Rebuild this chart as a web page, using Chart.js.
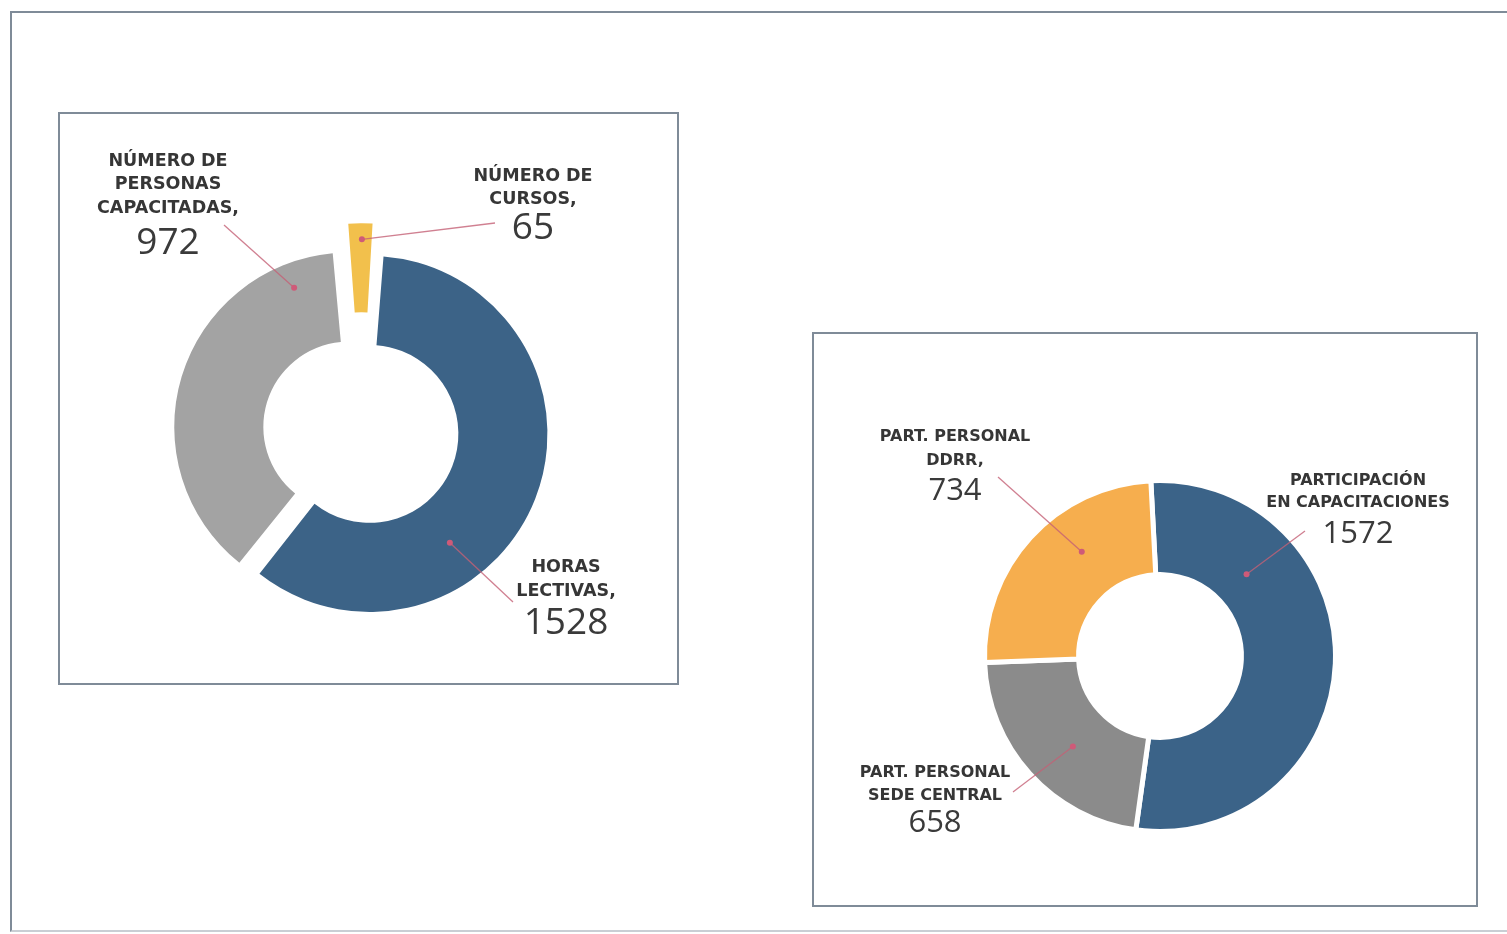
<!DOCTYPE html>
<html lang="es">
<head>
<meta charset="utf-8">
<title>Capacitación</title>
<script src="https://cdn.jsdelivr.net/npm/chart.js@4.4.1/dist/chart.umd.min.js"></script>
<style>
  html, body { margin: 0; padding: 0; background: #fff; }
  body { width: 1507px; height: 934px; position: relative; overflow: hidden; }
  .frame { position: absolute; box-sizing: border-box; border: 2px solid #7f8b98; }
  #page { left: 10px; top: 11px; width: 1510px; height: 921px; border-right: none; border-bottom-color: #c9ced4; }
  #boxA { left: 58px; top: 112px; width: 621px; height: 573px; }
  #boxB { left: 812px; top: 332px; width: 666px; height: 575px; }
  canvas { position: absolute; left: 0; top: 0; pointer-events: none; }
</style>
</head>
<body>
<div class="frame" id="page"></div>
<div class="frame" id="boxA"></div>
<div class="frame" id="boxB"></div>
<canvas id="cursosChart" width="1507" height="934"></canvas>
<canvas id="participacionChart" width="1507" height="934"></canvas>
<script>
// cursos / horas lectivas / personas capacitadas
const cursosNames = [['NÚMERO DE', 'CURSOS,'], ['HORAS', 'LECTIVAS,'], ['NÚMERO DE', 'PERSONAS', 'CAPACITADAS,']];
const cursosValues = [65, 1528, 972];
const cursosColors = ['#f2c04c', '#3c6387', '#a3a3a3'];

// participación del personal en capacitaciones
const partNames = [['PARTICIPACIÓN', 'EN CAPACITACIONES'], ['PART. PERSONAL', 'SEDE CENTRAL'], ['PART. PERSONAL', 'DDRR,']];
const partValues = [1572, 658, 734];
const partColors = ['#3b6388', '#8b8b8b', '#f6ae4e'];

// where each callout sits: text centre x, first line y, line step, number y,
// leader start, and where on the slice the dot goes (t along the arc, f across the ring)
const cursosCallouts = [
  { x: 533, y: 176, step: 23, numY: 228, lx: 495, ly: 223, t: 0.55, f: 0.82 },
  { x: 566, y: 567, step: 24.5, numY: 623.5, lx: 513, ly: 602, t: 0.65, f: 0.52 },
  { x: 168, y: 161, step: 23.5, numY: 243.5, lx: 224, ly: 225, t: 0.88, f: 0.72 }
];
const partCallouts = [
  { x: 1358, y: 481, step: 22, numY: 534, lx: 1305, ly: 531, t: 0.26, f: 0.4 },
  { x: 935, y: 773, step: 23, numY: 823, lx: 1013, ly: 792, t: 0.45, f: 0.47 },
  { x: 955, y: 437, step: 24, numY: 491, lx: 998, ly: 477, t: 0.62, f: 0.52 }
];

function makeCallouts(items, labelFont, numberFont) {
  return {
    id: 'callouts',
    afterDatasetsDraw(chart) {
      const ctx = chart.ctx;
      const meta = chart.getDatasetMeta(0);
      const values = chart.data.datasets[0].data;
      const names = chart.data.labels;
      meta.data.forEach((arc, i) => {
        const c = items[i];
        const p = arc.getProps(['x', 'y', 'startAngle', 'endAngle', 'innerRadius', 'outerRadius', 'circumference'], true);
        // same shift the arc element applies for its offset
        const off = (arc.options.offset || 0) / 4;
        const half = (p.startAngle + p.endAngle) / 2;
        const fix = 1 - Math.sin(Math.min(Math.PI, p.circumference));
        const a = p.startAngle + c.t * (p.endAngle - p.startAngle);
        const r = p.innerRadius + c.f * (p.outerRadius - p.innerRadius) + off * fix;
        const dx = p.x + Math.cos(half) * off + Math.cos(a) * r;
        const dy = p.y + Math.sin(half) * off + Math.sin(a) * r;

        ctx.save();
        ctx.strokeStyle = 'rgba(196, 96, 118, 0.8)';
        ctx.lineWidth = 1.3;
        ctx.beginPath();
        ctx.moveTo(c.lx, c.ly);
        ctx.lineTo(dx, dy);
        ctx.stroke();
        ctx.fillStyle = '#cf5a78';
        ctx.beginPath();
        ctx.arc(dx, dy, 3, 0, Math.PI * 2);
        ctx.fill();

        ctx.fillStyle = '#363636';
        ctx.textAlign = 'center';
        ctx.textBaseline = 'middle';
        ctx.font = labelFont;
        names[i].forEach((line, k) => ctx.fillText(line, c.x, c.y + k * c.step));
        ctx.fillStyle = '#3a3a3a';
        ctx.font = numberFont;
        ctx.fillText(String(values[i]), c.x, c.numY);
        ctx.restore();
      });
    }
  };
}

new Chart(document.getElementById('cursosChart'), {
  type: 'doughnut',
  data: {
    labels: cursosNames,
    datasets: [{
      data: cursosValues,
      backgroundColor: cursosColors,
      borderWidth: 0,
      offset: [82, 32, 56],
      clip: false
    }]
  },
  options: {
    responsive: false,
    animation: false,
    events: [],
    rotation: -5,
    radius: 170,
    cutout: '47.6%',
    layout: { padding: { left: 0, right: 783, top: 0, bottom: 72 } },
    plugins: { legend: { display: false }, tooltip: { enabled: false } }
  },
  plugins: [makeCallouts(cursosCallouts, '700 17.5px "DejaVu Sans"', '400 37px "Open Sans"')]
});

new Chart(document.getElementById('participacionChart'), {
  type: 'doughnut',
  data: {
    labels: partNames,
    datasets: [{
      data: partValues,
      backgroundColor: partColors,
      borderColor: '#ffffff',
      borderWidth: 5,
      clip: false
    }]
  },
  options: {
    responsive: false,
    animation: false,
    events: [],
    rotation: -3,
    radius: 175.5,
    cutout: '46.4%',
    layout: { padding: { left: 813, right: 0, top: 378, bottom: 0 } },
    plugins: { legend: { display: false }, tooltip: { enabled: false } }
  },
  plugins: [makeCallouts(partCallouts, '700 16px "DejaVu Sans"', '400 31px "Open Sans"')]
});
</script>
</body>
</html>
